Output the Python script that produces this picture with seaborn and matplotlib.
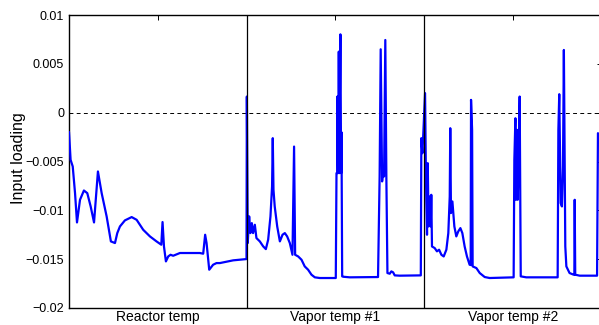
import matplotlib
matplotlib.use("Agg")
import matplotlib.pyplot as plt
import seaborn as sns
import pandas as pd

# ---------------- data ----------------
sections = ["Reactor temp", "Vapor temp #1", "Vapor temp #2"]
section_centers = [0.5, 1.5, 2.5]
section_bounds = [1.0, 2.0]

y_ticks = [-0.02, -0.015, -0.01, -0.005, 0, 0.005, 0.01]
y_tick_labels = ["\u22120.02", "\u22120.015", "\u22120.01", "\u22120.005", "0", "0.005", "0.01"]

reactor_x = [0.000, 0.009, 0.021, 0.034, 0.045, 0.062, 0.084, 0.103, 0.122, 0.141,
             0.163, 0.184, 0.212, 0.236, 0.259, 0.272, 0.287, 0.315, 0.353, 0.381,
             0.418, 0.456, 0.493, 0.520, 0.527, 0.535, 0.546, 0.559, 0.572, 0.587,
             0.625, 0.737, 0.756, 0.767, 0.775, 0.790, 0.812, 0.831, 0.850, 0.925, 1.000]
reactor_y = [-0.00197, -0.00483, -0.00551, -0.00824, -0.01124, -0.00892, -0.00797, -0.00824, -0.00960, -0.01124,
             -0.00602, -0.00824, -0.01062, -0.01318, -0.01335, -0.01233, -0.01165, -0.01103, -0.01069, -0.01097,
             -0.01199, -0.01267, -0.01318, -0.01352, -0.01120, -0.01369, -0.01523, -0.01472, -0.01455, -0.01465,
             -0.01437, -0.01437, -0.01444, -0.01250, -0.01335, -0.01608, -0.01557, -0.01540, -0.01540, -0.01512, -0.01499]

vapor1_x = [1.002, 1.007, 1.015, 1.022, 1.030, 1.037, 1.047, 1.056, 1.075, 1.094,
            1.109, 1.122, 1.135, 1.144, 1.148, 1.152, 1.159, 1.173, 1.188, 1.203,
            1.216, 1.229, 1.244, 1.259, 1.268, 1.274, 1.291, 1.310, 1.328, 1.347,
            1.366, 1.385, 1.413, 1.503, 1.507, 1.511, 1.512, 1.516, 1.520, 1.524,
            1.525, 1.529, 1.533, 1.535, 1.539, 1.545, 1.582, 1.741, 1.750, 1.756,
            1.764, 1.769, 1.775, 1.782, 1.788, 1.794, 1.807, 1.816, 1.826, 1.835,
            1.863, 1.982, 1.985, 1.991, 1.995]
vapor1_y = [0.00165, -0.01335, -0.01062, -0.01233, -0.01131, -0.01233, -0.01148, -0.01284, -0.01318, -0.01369,
            -0.01397, -0.01301, -0.01062, -0.00756, -0.00261, -0.00790, -0.00960, -0.01165, -0.01318, -0.01250,
            -0.01233, -0.01267, -0.01335, -0.01455, -0.00347, -0.01455, -0.01472, -0.01506, -0.01574, -0.01608,
            -0.01659, -0.01686, -0.01693, -0.01693, -0.00619, -0.00619, 0.00165, -0.00619, 0.00625, -0.00619,
            -0.00040, 0.00802, -0.00619, -0.00200, -0.01676, -0.01680, -0.01686, -0.01683, -0.00653, 0.00649,
            -0.00704, -0.00602, -0.00653, 0.00744, -0.00670, -0.01642, -0.01649, -0.01625, -0.01635, -0.01666,
            -0.01669, -0.01666, -0.00261, -0.00415, -0.00261]

vapor2_x = [2.006, 2.010, 2.013, 2.017, 2.021, 2.026, 2.032, 2.038, 2.041, 2.045,
            2.060, 2.073, 2.085, 2.098, 2.111, 2.126, 2.137, 2.145, 2.148, 2.152,
            2.160, 2.171, 2.182, 2.193, 2.205, 2.216, 2.229, 2.242, 2.257, 2.263,
            2.265, 2.271, 2.274, 2.295, 2.314, 2.342, 2.370, 2.505, 2.509, 2.515,
            2.518, 2.524, 2.528, 2.533, 2.539, 2.545, 2.576, 2.753, 2.757, 2.762,
            2.770, 2.777, 2.783, 2.788, 2.796, 2.802, 2.820, 2.843, 2.847, 2.849,
            2.852, 2.877, 2.975, 2.980]
vapor2_y = [0.00200, -0.00517, -0.00892, -0.01250, -0.00517, -0.01165, -0.00858, -0.01165, -0.00841, -0.01370,
            -0.01386, -0.01420, -0.01403, -0.01455, -0.01472, -0.01403, -0.01233, -0.00858, -0.00159, -0.01028,
            -0.00909, -0.01165, -0.01267, -0.01216, -0.01182, -0.01233, -0.01370, -0.01472, -0.01557, -0.01560,
            0.00131, -0.00176, -0.01574, -0.01591, -0.01642, -0.01683, -0.01693, -0.01686, -0.00483, -0.00057,
            -0.00892, -0.00176, -0.00892, -0.00449, 0.00165, -0.01676, -0.01686, -0.01686, -0.00176, 0.00189,
            -0.00926, -0.00960, -0.00551, 0.00642, -0.01369, -0.01574, -0.01642, -0.01659, -0.01659, -0.00892,
            -0.01659, -0.01669, -0.01669, -0.00210]

# ---------------- plot ----------------
sns.set_theme(style="white")
plt.rcParams["font.family"] = ["Liberation Sans", "DejaVu Sans"]
plt.rcParams["axes.unicode_minus"] = True

df = pd.DataFrame({
    "x": reactor_x + vapor1_x + vapor2_x,
    "y": reactor_y + vapor1_y + vapor2_y,
})

fig = plt.figure(figsize=(5.99, 3.25), dpi=100)
ax = fig.add_axes([69 / 599, 17 / 325, 532.5 / 599, 293 / 325])

sns.lineplot(data=df, x="x", y="y", sort=False, estimator=None,
             color="#0000ff", linewidth=1.6, ax=ax, zorder=3)

ax.axhline(0, color="black", linewidth=0.7, linestyle=(0, (4, 3.4)), zorder=2)
for b in section_bounds:
    ax.axvline(b, color="black", linewidth=0.9, zorder=4)

ax.set_xlim(0, 3)
ax.set_ylim(-0.02, 0.01)
ax.set_xticks(section_centers)
ax.set_xticklabels(sections, fontsize=10)
ax.set_yticks(y_ticks)
ax.set_yticklabels(y_tick_labels, fontsize=9)
ax.set_xlabel("")
ax.set_ylabel("")

ax.tick_params(axis="both", direction="in", length=3.6, width=0.7, color="black",
               top=True, right=True, labelcolor="black")
ax.tick_params(axis="x", pad=1.5)
ax.tick_params(axis="y", pad=3.5)

for s in ax.spines.values():
    s.set_visible(True)
    s.set_color("black")
    s.set_linewidth(1.0)

fig.text(19 / 599, 1 - 158 / 325, "Input loading", rotation=90, ha="center",
         va="center", fontsize=11.5, color="black")

fig.savefig("out.png", dpi=100)
